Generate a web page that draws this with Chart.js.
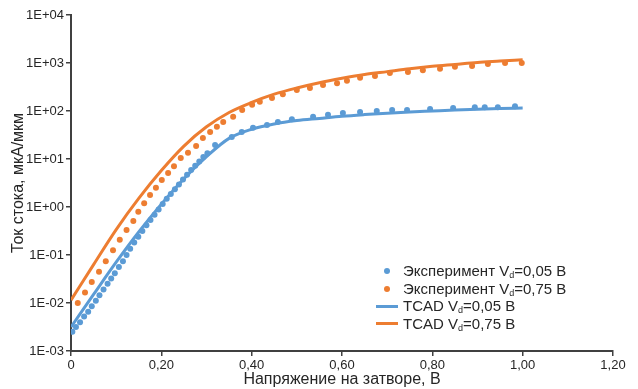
<!DOCTYPE html>
<html>
<head>
<meta charset="utf-8">
<script src="https://cdn.jsdelivr.net/npm/chart.js@4/dist/chart.umd.min.js"></script>
<style>
  body { margin: 0; background: #fff; }
  #wrap { position: relative; width: 638px; height: 389px; }
  #legend {
    position: absolute; left: 372px; top: 262px;
    font-family: "Liberation Sans", Arial, sans-serif; font-size: 15px; color: #262626;
  }
  .row { height: 17.5px; line-height: 17.5px; white-space: nowrap; position: relative; padding-left: 31px; }
  .dot { position: absolute; left: 12px; top: 6px; width: 6px; height: 6px; border-radius: 50%; }
  .line { position: absolute; left: 4px; top: 7.5px; width: 22px; height: 3px; }
  sub { font-size: 9px; vertical-align: -2px; line-height: 0; }
</style>
</head>
<body>
<div id="wrap">
  <canvas id="chart" width="638" height="389"></canvas>
  <div id="legend"></div>
</div>
<script>
// Экспериментальные точки, Vd = 0,05 В
const expV005 = [0.003, 0.011, 0.02, 0.029, 0.038, 0.046, 0.055, 0.063, 0.072, 0.081, 0.089, 0.097, 0.106, 0.115, 0.123,
  0.131, 0.14, 0.149, 0.158, 0.167, 0.176, 0.185, 0.194, 0.203, 0.212, 0.221, 0.23, 0.239, 0.248, 0.257, 0.266, 0.275,
  0.284, 0.293, 0.302, 0.319, 0.356, 0.378, 0.403, 0.434, 0.458, 0.489, 0.536, 0.569, 0.602, 0.64, 0.677, 0.711, 0.744,
  0.795, 0.846, 0.894, 0.916, 0.945, 0.983];
const expI005 = [2.51e-3, 3.16e-3, 3.98e-3, 5.25e-3, 6.61e-3, 8.51e-3, 1.12e-2, 1.45e-2, 1.91e-2, 2.51e-2, 3.24e-2, 4.17e-2,
  5.62e-2, 7.41e-2, 0.1, 0.135, 0.182, 0.24, 0.316, 0.417, 0.537, 0.692, 0.891, 1.15, 1.48, 1.86, 2.34, 2.95, 3.72, 4.68,
  5.89, 7.24, 8.91, 11.0, 13.2, 19.5, 28.8, 36.3, 44.7, 51.3, 58.9, 67.6, 75.9, 83.2, 91.2, 95.5, 100, 104.7, 104.7,
  109.6, 114.8, 120.2, 120.2, 120.2, 125.9];

// Экспериментальные точки, Vd = 0,75 В
const expV075 = [0.015, 0.031, 0.046, 0.062, 0.077, 0.093, 0.108, 0.123, 0.138, 0.149, 0.162, 0.175, 0.188, 0.201, 0.215,
  0.228, 0.243, 0.259, 0.277, 0.292, 0.308, 0.323, 0.337, 0.359, 0.379, 0.401, 0.418, 0.445, 0.469, 0.5, 0.529, 0.558,
  0.589, 0.611, 0.64, 0.673, 0.706, 0.746, 0.779, 0.817, 0.85, 0.888, 0.923, 0.961, 0.998];
const expI075 = [1.0e-2, 1.66e-2, 2.75e-2, 4.47e-2, 7.41e-2, 0.126, 0.209, 0.331, 0.513, 0.794, 1.2, 1.78, 2.51, 3.63, 5.13,
  7.08, 10.5, 13.5, 18.6, 27.5, 36.3, 46.8, 58.9, 75.9, 105, 135, 155, 186, 224, 275, 302, 347, 380, 427, 490, 537, 617,
  646, 708, 759, 832, 871, 955, 1000, 1000];

// Расчёт TCAD
const tcadV = [0, 0.05, 0.1, 0.15, 0.2, 0.25, 0.3, 0.35, 0.4, 0.45, 0.5, 0.55, 0.6, 0.65, 0.7, 0.75, 0.8, 0.85, 0.9, 0.95, 1.0];
const tcadI005 = [3.16e-3, 1.51e-2, 7.08e-2, 0.302, 1.148, 3.89, 11.2, 26.9, 41.7, 53.7, 63.1, 70.0, 77.6, 84.1, 90.2, 95.5,
  100, 104.7, 108.4, 112.2, 114.8];
const tcadI075 = [1.15e-2, 6.31e-2, 0.339, 1.51, 5.75, 18.6, 46.8, 93.3, 151, 224, 302, 389, 479, 575, 661, 759, 851, 933,
  1023, 1096, 1175];

// Подписи осей
const xTickValues = [0, 0.2, 0.4, 0.6, 0.8, 1.0, 1.2];
const xTickLabels = ['0', '0,20', '0,40', '0,60', '0,80', '1,00', '1,20'];
const yTickValues = [1e-3, 1e-2, 1e-1, 1e0, 1e1, 1e2, 1e3, 1e4];
const yTickLabels = ['1E-03', '1E-02', '1E-01', '1E+00', '1E+01', '1E+02', '1E+03', '1E+04'];

const blue = '#5B9BD5';
const orange = '#ED7D31';
const axisColor = '#404040';
const font = "'Liberation Sans', Arial, sans-serif";

function toPoints(xs, ys) {
  return xs.map((x, i) => ({ x: x, y: ys[i] }));
}

const legendItems = [
  { kind: 'dot', color: blue, html: 'Эксперимент V<sub>d</sub>=0,05 В' },
  { kind: 'dot', color: orange, html: 'Эксперимент V<sub>d</sub>=0,75 В' },
  { kind: 'line', color: blue, html: 'TCAD V<sub>d</sub>=0,05 В' },
  { kind: 'line', color: orange, html: 'TCAD V<sub>d</sub>=0,75 В' }
];
document.getElementById('legend').innerHTML = legendItems.map(it =>
  `<div class="row"><span class="${it.kind}" style="background:${it.color}"></span>${it.html}</div>`
).join('');

new Chart(document.getElementById('chart'), {
  type: 'scatter',
  data: {
    datasets: [
      { label: 'TCAD Vd=0,05 В', data: toPoints(tcadV, tcadI005), showLine: true, borderColor: blue,
        borderWidth: 3, pointRadius: 0, cubicInterpolationMode: 'monotone' },
      { label: 'TCAD Vd=0,75 В', data: toPoints(tcadV, tcadI075), showLine: true, borderColor: orange,
        borderWidth: 3, pointRadius: 0, cubicInterpolationMode: 'monotone' },
      { label: 'Эксперимент Vd=0,05 В', data: toPoints(expV005, expI005), backgroundColor: blue,
        borderWidth: 0, pointRadius: 3 },
      { label: 'Эксперимент Vd=0,75 В', data: toPoints(expV075, expI075), backgroundColor: orange,
        borderWidth: 0, pointRadius: 3 }
    ]
  },
  options: {
    responsive: false,
    animation: false,
    layout: { padding: { top: 15, right: 25, left: 0, bottom: 0 } },
    plugins: { legend: { display: false }, tooltip: { enabled: false } },
    scales: {
      x: {
        type: 'linear', min: 0, max: 1.2,
        afterBuildTicks: s => { s.ticks = xTickValues.map(v => ({ value: v })); },
        afterFit: s => { s.height = 38; },
        ticks: { callback: (v, i) => xTickLabels[i], color: '#262626', font: { family: font, size: 13 }, padding: 2, maxRotation: 0 },
        grid: { drawOnChartArea: false, tickLength: 5, color: axisColor, lineWidth: 1.5 },
        border: { color: axisColor, width: 2 },
        title: { display: true, text: 'Напряжение на затворе, В', color: '#262626',
          font: { family: font, size: 16 }, padding: { top: 0, bottom: 0 } }
      },
      y: {
        type: 'logarithmic', min: 1e-3, max: 1e4,
        afterBuildTicks: s => { s.ticks = yTickValues.map(v => ({ value: v })); },
        afterFit: s => { s.width = 71; },
        ticks: { callback: (v, i) => yTickLabels[i], color: '#262626', font: { family: font, size: 13 }, padding: 2 },
        grid: { drawOnChartArea: false, tickLength: 5, color: axisColor, lineWidth: 1.5 },
        border: { color: axisColor, width: 2 },
        title: { display: true, text: 'Ток стока, мкА/мкм', color: '#262626',
          font: { family: font, size: 16 }, padding: { top: 9, bottom: 0 } }
      }
    }
  }
});
</script>
</body>
</html>
